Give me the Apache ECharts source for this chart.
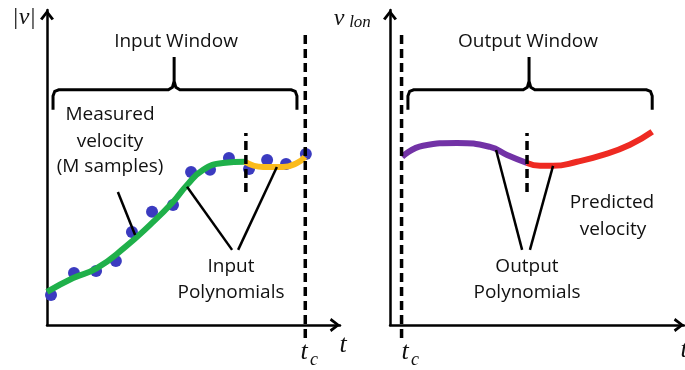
<!DOCTYPE html>
<html><head><meta charset="utf-8">
<script src="https://cdn.jsdelivr.net/npm/echarts@6/dist/echarts.min.js"></script>
<style>html,body{margin:0;padding:0;background:#fff}#c{width:685px;height:370px}</style>
</head><body><div id="c"></div>
<script>
// ---- data (data units: t along x, v along y) ----
const measuredT = [0.14, 0.94, 1.71, 2.40, 2.96, 3.66, 4.39, 5.02, 5.68, 6.34, 7.04, 7.67, 8.33, 9.02];
const measuredV = [0.97, 1.68, 1.75, 2.07, 3.01, 3.66, 3.88, 4.95, 5.02, 5.40, 5.05, 5.34, 5.21, 5.53];
const inPoly1T = [0, 0.91, 1.74, 2.72, 3.59, 4.39, 4.88, 5.44, 6.13, 6.90];
const inPoly1V = [1.07, 1.52, 1.84, 2.52, 3.24, 3.98, 4.53, 5.02, 5.24, 5.28];
const inPoly2T = [6.90, 7.53, 8.22, 8.71, 8.99];
const inPoly2V = [5.28, 5.11, 5.11, 5.24, 5.44];
const outPoly1T = [0.42, 1.14, 2.32, 3.46, 4.05, 4.74];
const outPoly1V = [5.44, 5.80, 5.89, 5.76, 5.50, 5.24];
const outPoly2T = [4.74, 5.19, 5.64, 6.47, 7.37, 8.30, 9.07];
const outPoly2V = [5.24, 5.15, 5.15, 5.28, 5.50, 5.83, 6.25];
const tcLeft = 9.0, tcRight = 0.4;
const splitLeft = 6.93, splitRight = 4.74;
const dashRange = [-0.42, 9.48];
const splitRange = [4.30, 6.21];
const leftBrace = [0.21, 4.43, 8.71];
const rightBrace = [0.62, 4.81, 9.07];
const braceLevels = [6.96, 7.61, 8.67];
const measuredPointer = [[2.47, 4.30], [3.07, 2.91]];
const inputPointers = [[[4.88, 4.47], [6.45, 2.43]], [[8.01, 5.11], [6.66, 2.43]]];
const outputPointers = [[[3.67, 5.66], [4.57, 2.43]], [[5.64, 5.15], [4.84, 2.43]]];
const axisMax = { leftT: 10.21, rightT: 10.17, v: 10.19 };

// ---- helpers ----
const zip = (a, b) => a.map((x, i) => [x, b[i]]);
function brace(b) {
  const [t0, tm, t1] = b, [vEnd, vBar, vTip] = braceLevels;
  return [[t0, vEnd], [t0, vBar - 0.2], [t0 + 0.06, vBar - 0.05], [t0 + 0.2, vBar],
    [tm - 0.2, vBar], [tm - 0.06, vBar + 0.08], [tm, vBar + 0.28], [tm, vTip],
    [tm, vBar + 0.28], [tm + 0.06, vBar + 0.08], [tm + 0.2, vBar],
    [t1 - 0.2, vBar], [t1 - 0.06, vBar - 0.05], [t1, vBar - 0.2], [t1, vEnd]];
}
const arrow = 'path://M7,-10M7,0L14,9L11.6,10.5L7,4.4L2.4,10.5L0,9Z';
function axes(gi, max) {
  const base = { type: 'value', gridIndex: gi, axisTick: { show: false }, axisLabel: { show: false }, splitLine: { show: false } };
  const line = { show: true, onZero: false, symbol: ['none', arrow], symbolSize: [14, 21], lineStyle: { color: '#000', width: 2.5 } };
  return [Object.assign({ min: 0, max: max, axisLine: line }, base), Object.assign({ min: 0, max: axisMax.v, axisLine: line }, base)];
}
const [x0, y0] = axes(0, axisMax.leftT);
const [x1, y1] = axes(1, axisMax.rightT);
const dashStyle = { color: '#000', width: 3.5, type: [9, 5], opacity: 1 };
const thin = { color: '#000', width: 2.5, opacity: 1 };
const braceStyle = { color: '#000', width: 3, opacity: 1 };
function annot(gi, items) {
  return { type: 'lines', coordinateSystem: 'cartesian2d', xAxisIndex: gi, yAxisIndex: gi, polyline: true, clip: false,
    silent: true, z: 5, lineStyle: { color: '#000', opacity: 1 }, data: items };
}
const txtFont = "19px 'Open Sans'";
function label(text, x, y) {
  return { type: 'text', x, y, style: { text, font: txtFont, fill: '#111', align: 'center', verticalAlign: 'middle' } };
}
function math(text, x, y, size) {
  return { type: 'text', x, y, style: { text, font: "italic " + size + "px 'Liberation Serif'", fill: '#111', align: 'center', verticalAlign: 'middle' } };
}

const option = {
  backgroundColor: '#fff',
  animation: false,
  grid: [
    { left: 47, top: 10, right: 345, bottom: 45 },
    { left: 390, top: 10, right: 1, bottom: 45 }
  ],
  xAxis: [x0, x1],
  yAxis: [y0, y1],
  series: [
    { type: 'scatter', xAxisIndex: 0, yAxisIndex: 0, data: zip(measuredT, measuredV), symbolSize: 12, itemStyle: { color: '#3b3bc0', opacity: 1 }, z: 2 },
    { type: 'line', xAxisIndex: 0, yAxisIndex: 0, data: zip(inPoly1T, inPoly1V), smooth: 0.5, showSymbol: false, lineStyle: { color: '#1fb04a', width: 6 }, z: 3 },
    { type: 'line', xAxisIndex: 0, yAxisIndex: 0, data: zip(inPoly2T, inPoly2V), smooth: 0.5, showSymbol: false, lineStyle: { color: '#fbbb1c', width: 6 }, z: 3 },
    { type: 'line', xAxisIndex: 1, yAxisIndex: 1, data: zip(outPoly1T, outPoly1V), smooth: 0.5, showSymbol: false, lineStyle: { color: '#7232a6', width: 6 }, z: 3 },
    { type: 'line', xAxisIndex: 1, yAxisIndex: 1, data: zip(outPoly2T, outPoly2V), smooth: 0.5, showSymbol: false, lineStyle: { color: '#ee2a22', width: 6 }, z: 3 },
    annot(0, [
      { coords: [[tcLeft, dashRange[0]], [tcLeft, dashRange[1]]], lineStyle: dashStyle },
      { coords: [[splitLeft, splitRange[0]], [splitLeft, splitRange[1]]], lineStyle: dashStyle },
      { coords: brace(leftBrace), lineStyle: braceStyle },
      { coords: measuredPointer, lineStyle: thin },
      { coords: inputPointers[0], lineStyle: thin },
      { coords: inputPointers[1], lineStyle: thin }
    ]),
    annot(1, [
      { coords: [[tcRight, dashRange[0]], [tcRight, dashRange[1]]], lineStyle: dashStyle },
      { coords: [[splitRight, splitRange[0]], [splitRight, splitRange[1]]], lineStyle: dashStyle },
      { coords: brace(rightBrace), lineStyle: braceStyle },
      { coords: outputPointers[0], lineStyle: thin },
      { coords: outputPointers[1], lineStyle: thin }
    ])
  ],
  graphic: [
    label('Input Window', 176, 42),
    label('Measured', 110, 115),
    label('velocity', 110, 142),
    label('(M samples)', 110, 167),
    label('Input', 231, 267),
    label('Polynomials', 231, 293),
    label('Output Window', 528, 42),
    label('Predicted', 612, 203),
    label('velocity', 613, 230),
    label('Output', 527, 267),
    label('Polynomials', 527, 293),
    math('|v|', 24, 18, 24),
    math('v', 339, 19, 24),
    math('lon', 360, 23, 17),
    math('t', 304, 352, 26),
    math('c', 314, 360, 18),
    math('t', 405, 352, 26),
    math('c', 415, 360, 18),
    math('t', 343, 345, 26),
    math('t', 684, 350, 26)
  ]
};
const chart = echarts.init(document.getElementById('c'), null, { renderer: 'canvas' });
chart.setOption(option);
</script></body></html>
